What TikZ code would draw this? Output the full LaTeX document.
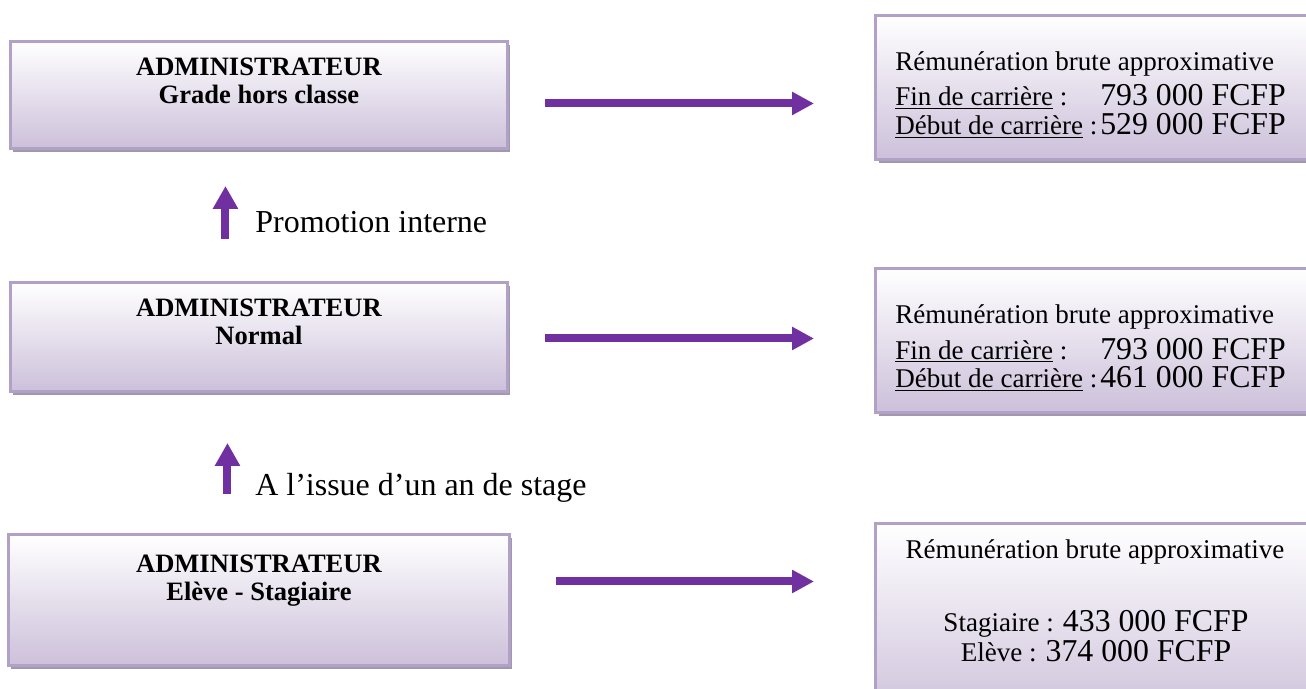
\documentclass[tikz,border=0pt]{standalone}
\usepackage{fontspec}
\setmainfont{Liberation Serif}
\usetikzlibrary{arrows.meta,positioning,shadows}

\definecolor{boxline}{RGB}{178,161,199}
\definecolor{boxfill}{RGB}{204,192,218}
\definecolor{arrowpurple}{RGB}{112,48,160}
\definecolor{shadowgrey}{RGB}{160,152,172}

\newcommand{\payamount}[1]{{\fontsize{18.1}{18.1}\selectfont #1}}
\newcommand{\paykey}[1]{\makebox[4.1cm][l]{\underline{#1} :}}

\begin{document}
\begin{tikzpicture}[
    x=0.02cm, y=-0.02cm,
    gradebox/.style={
        draw=boxline,
        line width=0.06cm,
        top color=white,
        bottom color=boxfill,
        drop shadow={shadow xshift=0.06cm, shadow yshift=-0.08cm,
            fill=shadowgrey, opacity=1},
        anchor=north west,
        inner sep=0pt
    },
    gradetext/.style={
        font=\fontsize{15.1}{15.6}\selectfont\bfseries,
        align=center,
        inner sep=0pt
    },
    paytext/.style={
        font=\fontsize{15.4}{17}\selectfont,
        inner sep=0pt,
        anchor=base west
    },
    steplabel/.style={
        font=\fontsize{18.2}{20}\selectfont,
        inner sep=0pt
    },
    payarrow/.style={
        -{Triangle[length=0.44cm, width=0.44cm]},
        draw=arrowpurple,
        fill=arrowpurple,
        line width=0.16cm
    },
    promoarrow/.style={
        -{Triangle[length=0.46cm, width=0.48cm]},
        draw=arrowpurple,
        fill=arrowpurple,
        line width=0.16cm
    }
]
    \clip (0,0) rectangle (1306,689);
    \fill[white] (0,0) rectangle (1306,689);

    % left column: grades
    \node[gradebox, minimum width=9.94cm, minimum height=2.14cm] (hc) at (9,40) {};
    \node[gradebox, minimum width=9.94cm, minimum height=2.18cm] (normal) at (9,281) {};
    \node[gradebox, minimum width=10.02cm, minimum height=2.62cm] (eleve) at (7,533) {};

    \node[gradetext, below=0.36cm of hc.north] (hc-text)
        {ADMINISTRATEUR\\Grade hors classe};
    \node[gradetext, below=0.36cm of normal.north] (normal-text)
        {ADMINISTRATEUR\\Normal};
    \node[gradetext, below=0.44cm of eleve.north] (eleve-text)
        {ADMINISTRATEUR\\Elève - Stagiaire};

    % right column: pay
    \node[gradebox, minimum width=8.84cm, minimum height=2.88cm] (pay-hc) at (874,14) {};
    \node[gradebox, minimum width=8.84cm, minimum height=2.88cm] (pay-normal) at (874,267) {};
    \node[gradebox, minimum width=8.84cm, minimum height=4cm] (pay-eleve) at (874,522) {};

    \node[paytext] (pay-hc-title) at (895,71) {Rémunération brute approximative};
    \node[paytext] (pay-hc-end) at (895,106)
        {\paykey{Fin de carrière}\payamount{793 000 FCFP}};
    \node[paytext] (pay-hc-start) at (895,135)
        {\paykey{Début de carrière}\payamount{529 000 FCFP}};

    \node[paytext] (pay-normal-title) at (895,324) {Rémunération brute approximative};
    \node[paytext] (pay-normal-end) at (895,359)
        {\paykey{Fin de carrière}\payamount{793 000 FCFP}};
    \node[paytext] (pay-normal-start) at (895,388)
        {\paykey{Début de carrière}\payamount{461 000 FCFP}};

    \node[paytext, anchor=base] (pay-eleve-title) at (1095,558) {Rémunération brute approximative};
    \node[paytext, anchor=base] (pay-eleve-stage) at (1096,631)
        {Stagiaire : \payamount{433 000 FCFP}};
    \node[paytext, anchor=base] (pay-eleve-school) at (1096,661)
        {Elève : \payamount{374 000 FCFP}};

    % connectors
    \draw[payarrow, shorten <=0.72cm, shorten >=1.2cm]
        ([yshift=-0.17cm]hc.east) -- ([yshift=-0.17cm]hc.east -| pay-hc.west);
    \draw[payarrow, shorten <=0.72cm, shorten >=1.2cm]
        ([yshift=-0.03cm]normal.east) -- ([yshift=-0.03cm]normal.east -| pay-normal.west);
    \draw[payarrow, shorten <=0.9cm, shorten >=1.2cm]
        ([yshift=0.37cm]eleve.east) -- ([yshift=0.37cm]eleve.east -| pay-eleve.west);

    \draw[promoarrow, shorten <=0.84cm, shorten >=0.72cm]
        ([xshift=-0.67cm]normal.north) -- ([xshift=-0.67cm]normal.north |- hc.south);
    \draw[promoarrow, shorten <=0.78cm, shorten >=1.0cm]
        ([xshift=-0.63cm]eleve.north) -- ([xshift=-0.63cm]eleve.north |- normal.south);

    \node[steplabel, anchor=base west] (promo-label) at (255,233) {Promotion interne};
    \node[steplabel, anchor=base west] (stage-label) at (255,495) {A l’issue d’un an de stage};
\end{tikzpicture}
\end{document}
